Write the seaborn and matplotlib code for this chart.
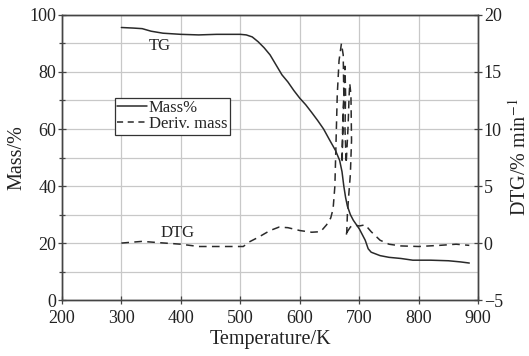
import numpy as np
import pandas as pd
import matplotlib
matplotlib.use("Agg")
import matplotlib.pyplot as plt
from matplotlib.ticker import MultipleLocator
from matplotlib.lines import Line2D
import seaborn as sns

# TG curve (mass %)
tg_temp = [300, 320, 335, 350, 370, 400, 430, 460, 500, 510, 520, 530, 540, 550,
           560, 570, 580, 590, 600, 610, 620, 630, 640, 650, 660, 667, 671, 674,
           677, 680, 685, 690, 700, 710, 715, 720, 735, 750, 770, 790, 820, 850,
           870, 885]
tg_mass = [95.6, 95.4, 95.2, 94.3, 93.6, 93.2, 93.0, 93.2, 93.2, 93.0, 92.3, 90.6,
           88.5, 86.0, 82.5, 79.0, 76.5, 73.5, 70.8, 68.5, 65.8, 63.0, 60.0, 56.2,
           52.5, 49.0, 45.0, 40.0, 36.0, 33.0, 30.0, 28.0, 25.0, 21.0, 18.0, 16.8,
           15.6, 15.0, 14.6, 14.0, 14.0, 13.8, 13.4, 13.0]

# DTG curve (%/min), drawn in order (peak region wiggles back and forth)
dtg_temp = [300, 335, 360, 400, 430, 470, 505, 515, 530, 550, 565, 580, 600, 620,
            635, 645, 652, 656, 659, 661, 663, 666, 670, 673, 674, 672, 671, 673,
            676, 677, 676, 678, 681, 683, 684, 686, 687, 685, 682, 680, 679, 678,
            680, 685, 690, 700, 710, 720, 735, 750, 770, 800, 835, 863, 885]
dtg_val = [0.0, 0.15, 0.05, -0.1, -0.3, -0.3, -0.3, 0.1, 0.5, 1.1, 1.4, 1.35, 1.1,
           0.95, 1.0, 1.6, 2.2, 3.0, 5.0, 9.0, 13.0, 16.0, 17.5, 16.5, 13.0, 10.0,
           7.0, 11.0, 15.5, 13.0, 10.0, 7.0, 10.0, 13.0, 14.0, 13.0, 9.0, 6.0,
           4.0, 2.5, 1.0, 0.6, 1.0, 1.4, 1.6, 1.5, 1.6, 1.0, 0.25, -0.1, -0.25,
           -0.3, -0.2, -0.1, -0.2]

tg = pd.DataFrame({"T": tg_temp, "mass": tg_mass})
dtg = pd.DataFrame({"T": dtg_temp, "dtg": dtg_val})

sns.set_style("ticks")
plt.rcParams["font.family"] = ["Liberation Serif", "DejaVu Serif"]
plt.rcParams["mathtext.fontset"] = "stix"

fig = plt.figure(figsize=(5.29, 3.56), dpi=100)
ax = fig.add_axes([0.117, 0.157, 0.787, 0.801])
ax2 = ax.twinx()

line_col = "#2a2a2a"
sns.lineplot(data=tg, x="T", y="mass", ax=ax, color=line_col, lw=1.1,
             sort=False, estimator=None)
sns.lineplot(data=dtg, x="T", y="dtg", ax=ax2, color=line_col, lw=1.1,
             sort=False, estimator=None, linestyle=(0, (5, 3.5)))

ax.set_xlim(200, 900)
ax.set_ylim(0, 100)
ax2.set_ylim(-5, 20)
ax.xaxis.set_major_locator(MultipleLocator(100))
ax.yaxis.set_major_locator(MultipleLocator(20))
ax.yaxis.set_minor_locator(MultipleLocator(10))
ax2.yaxis.set_major_locator(MultipleLocator(5))

ax.grid(True, which="both", color="#c8c8c8", lw=0.9)
ax.set_axisbelow(True)

for a in (ax, ax2):
    for s in a.spines.values():
        s.set_color("#444444")
        s.set_linewidth(1.0)
    a.tick_params(labelsize=13, color="#444444", length=6, width=0.9,
                  direction="inout", pad=1, labelcolor="#222222")
ax.tick_params(axis="x", pad=4)
ax.tick_params(which="minor", length=5, width=0.9, color="#444444",
               direction="inout")

ax.set_xlabel("Temperature/K", fontsize=14.5, labelpad=2, color="#222222")
ax.set_ylabel("Mass/%", fontsize=14.5, labelpad=2, color="#222222")
ax2.set_ylabel("DTG/% min$^{-1}$", fontsize=14.5, labelpad=4, color="#222222")

ax.text(365, 89, "TG", fontsize=12, ha="center", va="center")
ax.text(394, 23.5, "DTG", fontsize=12, ha="center", va="center")

handles = [Line2D([], [], color=line_col, lw=1.1),
           Line2D([], [], color=line_col, lw=1.1, linestyle=(0, (4, 3)))]
leg = ax.legend(handles, ["Mass%", "Deriv. mass"], loc="upper left",
                bbox_to_anchor=(0.127, 0.71), fontsize=12, frameon=True,
                fancybox=False, edgecolor="#333333", framealpha=1,
                handlelength=1.8, handletextpad=0.1, borderpad=0.15,
                labelspacing=0.0, borderaxespad=0)
leg.get_frame().set_linewidth(0.9)

fig.savefig("out.png", dpi=100)
